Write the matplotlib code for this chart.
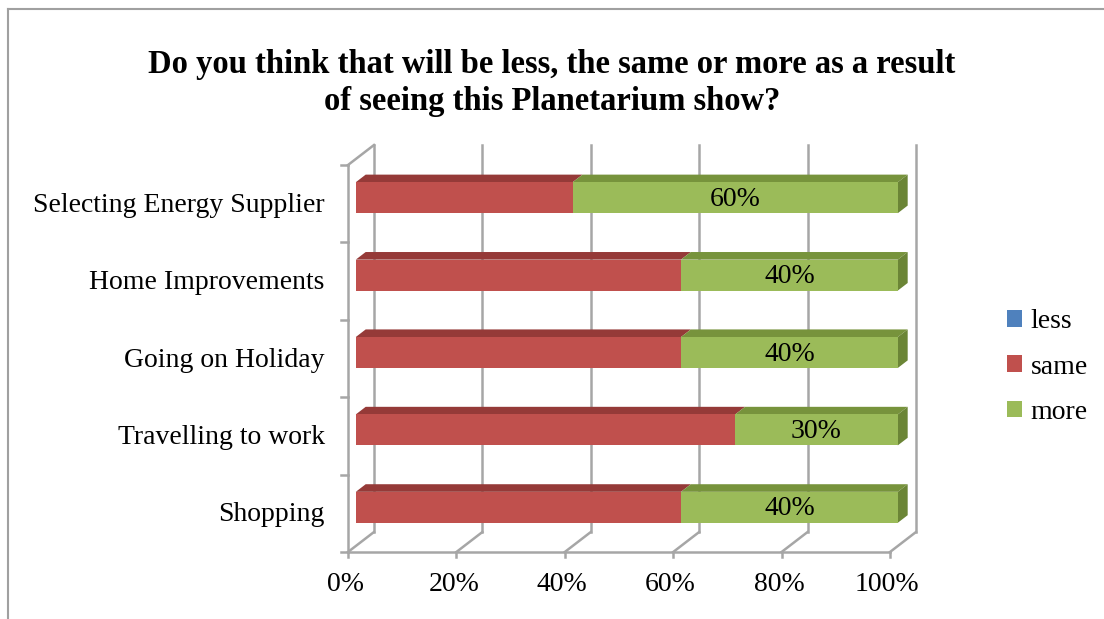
import matplotlib
matplotlib.use("Agg")
import matplotlib.pyplot as plt
from matplotlib.patches import Polygon, Patch
from matplotlib.lines import Line2D

categories = ["Selecting Energy Supplier", "Home Improvements", "Going on Holiday",
              "Travelling to work", "Shopping"]
less = [0, 0, 0, 0, 0]
same = [40, 60, 60, 70, 60]
more = [60, 40, 40, 30, 40]
series_names = ["less", "same", "more"]
xticks = [0, 20, 40, 60, 80, 100]
xtick_labels = ["0%", "20%", "40%", "60%", "80%", "100%"]
title = "Do you think that will be less, the same or more as a result\nof seeing this Planetarium show?"

front_colors = {"less": "#4F81BD", "same": "#C0504D", "more": "#9BBB59"}
top_colors = {"less": "#3A6596", "same": "#953A38", "more": "#77933C"}
side_colors = {"less": "#345A86", "same": "#863533", "more": "#6B8536"}
grid_c = "#A6A6A6"
FONT = "Liberation Serif"
FS = 20

W, H = 1104, 619
fig = plt.figure(figsize=(W / 100, H / 100), dpi=100)
# front plane of the 3D plot
x0, x1 = 348, 890
ytop, ybot = 165, 552
ax = fig.add_axes([x0 / W, 1 - ybot / H, (x1 - x0) / W, (ybot - ytop) / H])
n = len(categories)
ax.set_xlim(0, 100)
ax.set_ylim(n, 0)
ax.axis("off")

# depth vector in data units (26 px right, 20 px up)
DX = 26 / (x1 - x0) * 100
DY = 20 / (ybot - ytop) * n

def P(x, y, d):
    return (x + d * DX, y - d * DY)

lw = 1.8
# outer chart border
fig.add_artist(Line2D([8 / W, 8 / W], [0, 1 - 9 / H], transform=fig.transFigure, color="#A0A0A0", lw=1.5))
fig.add_artist(Line2D([8 / W, 1], [1 - 9 / H, 1 - 9 / H], transform=fig.transFigure, color="#A0A0A0", lw=1.5))

# back wall gridlines and floor diagonals
for t in xticks:
    a, b = P(t, 0, 1), P(t, n, 1)
    ax.plot([a[0], b[0]], [a[1], b[1]], color=grid_c, lw=lw, zorder=1, clip_on=False)
    c = P(t, n, 0)
    ax.plot([c[0], b[0]], [c[1], b[1]], color=grid_c, lw=lw, zorder=1, clip_on=False)
    ax.plot([t, t], [n, n + 0.07], color=grid_c, lw=lw, zorder=1, clip_on=False)
ax.plot([0, 100], [n, n], color=grid_c, lw=lw, zorder=1, clip_on=False)
ax.plot([0, 0], [0, n], color=grid_c, lw=lw, zorder=1, clip_on=False)
a = P(0, 0, 1)
ax.plot([0, a[0]], [0, a[1]], color=grid_c, lw=lw, zorder=1, clip_on=False)
for i in range(n + 1):
    ax.plot([-1.2, 0], [i, i], color=grid_c, lw=lw, zorder=1, clip_on=False)

# bars
d0, d1 = 0.3, 0.68
bh = 0.4
values = {"less": less, "same": same, "more": more}
for i, cat in enumerate(categories):
    yc = i + 0.5
    left = 0
    last_right = None
    last_name = None
    yf = yc - d0 * DY
    for name in series_names:
        v = values[name][i]
        if v <= 0:
            continue
        ax.barh(yf, v, left=left + d0 * DX, height=bh, color=front_colors[name],
                edgecolor="none", zorder=3, clip_on=False)
        yt = yf - bh / 2 + d0 * DY
        top = [P(left, yt, d0), P(left + v, yt, d0), P(left + v, yt, d1), P(left, yt, d1)]
        ax.add_patch(Polygon(top, closed=True, facecolor=top_colors[name], edgecolor="none",
                             zorder=2.5, clip_on=False))
        if name == "more":
            ax.text(left + d0 * DX + v / 2, yf + 0.02, f"{v}%", ha="center", va="center",
                    fontsize=FS, family=FONT, zorder=5)
        left += v
        last_right = left
        last_name = name
    ybt = yf + bh / 2 + d0 * DY
    ytp = yf - bh / 2 + d0 * DY
    side = [P(last_right, ytp, d0), P(last_right, ybt, d0), P(last_right, ybt, d1), P(last_right, ytp, d1)]
    ax.add_patch(Polygon(side, closed=True, facecolor=side_colors[last_name], edgecolor="none",
                         zorder=2.5, clip_on=False))
    ax.text(-4.3, i + 0.52, cat, ha="right", va="center", fontsize=FS, family=FONT)

for t, lab in zip(xticks, xtick_labels):
    ax.text(t - 0.5, n + 0.42, lab, ha="center", va="center", fontsize=FS, family=FONT)

fig.text(0.5, 1 - 83 / H, title, ha="center", va="center", fontsize=23.5, fontweight="bold",
         family=FONT, linespacing=1.25)

handles = [Patch(facecolor=front_colors[s], edgecolor="none") for s in series_names]
fig.legend(handles, series_names, loc="center left", bbox_to_anchor=(993 / W, 1 - 367 / H),
           frameon=False, prop={"family": FONT, "size": FS}, handlelength=0.55, handleheight=0.55,
           handletextpad=0.3, labelspacing=0.73, borderpad=0)

fig.savefig("out.png", dpi=100, facecolor="white")
